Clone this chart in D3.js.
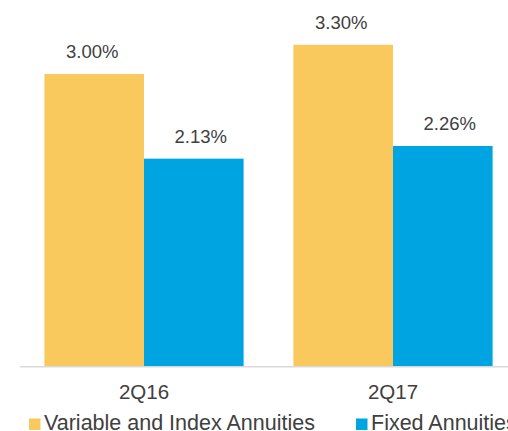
<!DOCTYPE html>
<html>
<head>
<meta charset="utf-8">
<script src="https://cdn.jsdelivr.net/npm/d3@7"></script>
<style>
  html, body { margin: 0; padding: 0; background: #fff; overflow: hidden; }
  svg { display: block; font-family: "Liberation Sans", Arial, sans-serif; }
</style>
</head>
<body>
<svg id="chart" width="508" height="431"></svg>
<script>
// data
const categories = ['2Q16', '2Q17'];
const seriesNames = ['Variable and Index Annuities', 'Fixed Annuities'];
const variableIndex = [3.00, 3.30];
const fixed = [2.13, 2.26];
const seriesColors = ['#F9C95D', '#00A4E1'];

const W = 508, H = 431;
const BASE_Y = 366;
const TEXT = '#404040';

const svg = d3.select('#chart');

const rows = categories.map((c, i) => ({
    cat: c,
    values: [variableIndex[i], fixed[i]]
}));

// scales
const x0 = d3.scaleBand()
    .domain(categories)
    .range([19.5, 517.5])
    .paddingInner(0.2)
    .paddingOuter(0.1);

const x1 = d3.scaleBand()
    .domain(d3.range(seriesNames.length))
    .range([0, x0.bandwidth()]);

const y = d3.scaleLinear()
    .domain([0, 3.76])
    .range([BASE_Y, 0]);

// bars + labels
const groups = svg.append('g').selectAll('g')
    .data(rows)
    .join('g')
    .attr('transform', d => `translate(${x0(d.cat)},0)`);

groups.selectAll('rect')
    .data(d => d.values.map((v, k) => ({ v, k })))
    .join('rect')
    .attr('x', d => x1(d.k))
    .attr('y', d => y(d.v))
    .attr('width', x1.bandwidth())
    .attr('height', d => y(0) - y(d.v))
    .attr('fill', d => seriesColors[d.k]);

// labels sit a little off-centre in the original (fixed ones to the right)
const labelShift = [-2, 7];
groups.selectAll('text.val')
    .data(d => d.values.map((v, k) => ({ v, k })))
    .join('text')
    .attr('class', 'val')
    .attr('x', d => x1(d.k) + x1.bandwidth() / 2 + labelShift[d.k])
    .attr('y', d => y(d.v) - 16)
    .attr('text-anchor', 'middle')
    .attr('font-size', 18.5)
    .attr('fill', TEXT)
    .text(d => d.v.toFixed(2) + '%');

// x axis
const xAxis = svg.append('g')
    .attr('transform', `translate(0,${BASE_Y})`)
    .call(d3.axisBottom(x0).tickSize(0).tickPadding(18));

xAxis.select('.domain').remove();
xAxis.append('line')
    .attr('x1', 20).attr('x2', W)
    .attr('y1', 0.75).attr('y2', 0.75)
    .attr('stroke', '#d9d9d9')
    .attr('stroke-width', 1.5);
xAxis.selectAll('.tick text')
    .attr('font-size', 20.5)
    .attr('font-family', '"Liberation Sans", Arial, sans-serif')
    .attr('fill', TEXT);

// legend
const legendX = [29, 356];
const legend = svg.append('g').selectAll('g')
    .data(seriesNames)
    .join('g')
    .attr('transform', (d, i) => `translate(${legendX[i]},418.5)`);

legend.append('rect')
    .attr('width', 11.5)
    .attr('height', 11.5)
    .attr('fill', (d, i) => seriesColors[i]);

legend.append('text')
    .attr('x', 15)
    .attr('y', 11.5)
    .attr('font-size', 21.5)
    .attr('fill', TEXT)
    .text(d => d);
</script>
</body>
</html>
